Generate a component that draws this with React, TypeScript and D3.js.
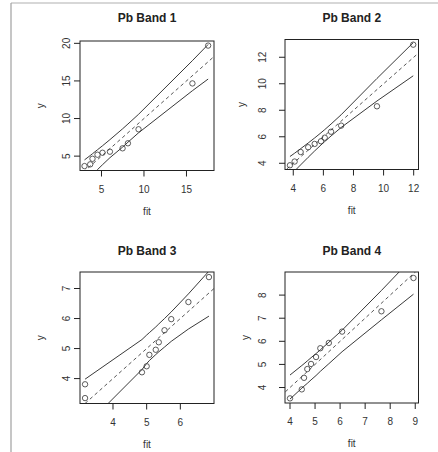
import React from "react";
import * as d3 from "d3";

// ---------- data ----------
const titles = ["Pb Band 1", "Pb Band 2", "Pb Band 3", "Pb Band 4"];

const p1Fit = [3.0, 3.67, 3.94, 4.53, 5.12, 5.99, 7.48, 8.11, 9.36, 15.7, 17.55];
const p1Y = [3.68, 3.91, 4.65, 5.19, 5.45, 5.59, 6.04, 6.71, 8.57, 14.67, 19.7];
const p1Upper = [4.5, 5.08, 5.32, 5.85, 6.38, 7.19, 8.63, 9.27, 10.56, 17.7, 19.85];
const p1Lower = [1.5, 2.26, 2.56, 3.21, 3.86, 4.79, 6.2, 6.85, 8.1, 13.7, 15.25];
const p1XDomain = [2.47, 18.24];
const p1YDomain = [3.09, 20.31];
const p1XTicks = [5, 10, 15];
const p1YTicks = [5, 10, 15, 20];

const p2Fit = [3.78, 4.09, 4.49, 4.99, 5.42, 5.84, 6.09, 6.51, 7.18, 9.56, 11.97];
const p2Y = [3.85, 4.13, 4.85, 5.21, 5.46, 5.66, 5.93, 6.38, 6.84, 8.3, 12.95];
const p2Upper = [4.51, 4.76, 5.1, 5.53, 5.91, 6.3, 6.54, 6.96, 7.66, 10.4, 13.1];
const p2Lower = [3.05, 3.42, 3.88, 4.45, 4.93, 5.38, 5.64, 6.06, 6.7, 8.7, 10.6];
const p2XDomain = [3.45, 12.32];
const p2YDomain = [3.53, 13.34];
const p2XTicks = [4, 6, 8, 10, 12];
const p2YTicks = [4, 6, 8, 10, 12];

const p3Fit = [3.17, 3.17, 4.86, 5.0, 5.08, 5.27, 5.36, 5.53, 5.73, 6.24, 6.85];
const p3Y = [3.81, 3.35, 4.21, 4.41, 4.79, 4.96, 5.21, 5.61, 5.98, 6.55, 7.38];
const p3Upper = [3.98, 3.98, 5.3, 5.45, 5.53, 5.72, 5.82, 6.0, 6.22, 6.82, 7.58];
const p3Lower = [2.4, 2.4, 4.3, 4.5, 4.6, 4.8, 4.89, 5.05, 5.24, 5.65, 6.08];
const p3XDomain = [3.02, 7.0];
const p3YDomain = [3.17, 7.55];
const p3XTicks = [4, 5, 6];
const p3YTicks = [4, 5, 6, 7];

const p4Fit = [4.0, 4.47, 4.56, 4.69, 4.84, 5.04, 5.21, 5.55, 6.08, 7.65, 8.93];
const p4Y = [3.53, 3.92, 4.42, 4.8, 5.02, 5.32, 5.7, 5.93, 6.42, 7.3, 8.74];
const p4Upper = [4.54, 4.95, 5.03, 5.15, 5.29, 5.47, 5.63, 5.96, 6.48, 8.2, 9.65];
const p4Lower = [3.5, 3.97, 4.06, 4.18, 4.33, 4.52, 4.7, 5.03, 5.55, 6.93, 8.04];
const p4XDomain = [3.8, 9.13];
const p4YDomain = [3.33, 9.0];
const p4XTicks = [4, 5, 6, 7, 8, 9];
const p4YTicks = [4, 5, 6, 7, 8];

// reference line y = fit (dashed), as endpoints
const refLine = [0, 25];

const panels = [
  { fit: p1Fit, y: p1Y, up: p1Upper, lo: p1Lower, xd: p1XDomain, yd: p1YDomain, xt: p1XTicks, yt: p1YTicks },
  { fit: p2Fit, y: p2Y, up: p2Upper, lo: p2Lower, xd: p2XDomain, yd: p2YDomain, xt: p2XTicks, yt: p2YTicks },
  { fit: p3Fit, y: p3Y, up: p3Upper, lo: p3Lower, xd: p3XDomain, yd: p3YDomain, xt: p3XTicks, yt: p3YTicks },
  { fit: p4Fit, y: p4Y, up: p4Upper, lo: p4Lower, xd: p4XDomain, yd: p4YDomain, xt: p4XTicks, yt: p4YTicks },
];

// ---------- layout ----------
const boxes = [
  { x0: 80, x1: 214, y0: 41, y1: 170.5, tickLab: 14, yLab: 40, titleY: 21.5 },
  { x0: 285, x1: 418.5, y0: 39.5, y1: 169.5, tickLab: 23, yLab: 44, titleY: 21.5 },
  { x0: 80, x1: 214, y0: 272, y1: 403.5, tickLab: 14, yLab: 40, titleY: 255 },
  { x0: 285, x1: 418.5, y0: 272, y1: 403, tickLab: 23, yLab: 40, titleY: 254.5 },
];

const FONT = "'Liberation Sans', Arial, Helvetica, sans-serif";
const INK = "#222";

function Panel({ idx }: { idx: number }) {
  const p = panels[idx];
  const b = boxes[idx];
  const x = d3.scaleLinear().domain(p.xd).range([b.x0, b.x1]);
  const y = d3.scaleLinear().domain(p.yd).range([b.y1, b.y0]);
  const idxs = d3.range(p.fit.length);
  const line = d3
    .line<number>()
    .x((i) => x(p.fit[i]))
    .y((i) => y(p.up[i]));
  const lineLo = d3
    .line<number>()
    .x((i) => x(p.fit[i]))
    .y((i) => y(p.lo[i]));
  const refPath = d3
    .line<number>()
    .x((v) => x(v))
    .y((v) => y(v))(refLine);
  const cx = (b.x0 + b.x1) / 2;
  const cy = (b.y0 + b.y1) / 2;
  const clipId = `clip${idx}`;
  return (
    <g>
      <defs>
        <clipPath id={clipId}>
          <rect x={b.x0} y={b.y0} width={b.x1 - b.x0} height={b.y1 - b.y0} />
        </clipPath>
      </defs>
      <text x={cx} y={b.titleY} textAnchor="middle" fontFamily={FONT} fontWeight="bold" fontSize={12} fill={INK}>
        {titles[idx]}
      </text>
      <g clipPath={`url(#${clipId})`}>
        <path d={refPath || ""} fill="none" stroke="#444" strokeWidth={0.9} strokeDasharray="3.5,3" />
        <path d={line(idxs) || ""} fill="none" stroke={INK} strokeWidth={0.9} />
        <path d={lineLo(idxs) || ""} fill="none" stroke={INK} strokeWidth={0.9} />
        {idxs.map((i) => (
          <circle key={i} cx={x(p.fit[i])} cy={y(p.y[i])} r={2.7} fill="none" stroke="#333" strokeWidth={0.8} />
        ))}
      </g>
      <rect x={b.x0} y={b.y0} width={b.x1 - b.x0} height={b.y1 - b.y0} fill="none" stroke={INK} strokeWidth={1} />
      {p.xt.map((t) => (
        <g key={"x" + t}>
          <line x1={x(t)} x2={x(t)} y1={b.y1} y2={b.y1 + 6} stroke={INK} strokeWidth={1} />
          <text x={x(t)} y={b.y1 + 22} textAnchor="middle" fontFamily={FONT} fontSize={10} fill="#333">
            {t}
          </text>
        </g>
      ))}
      {p.yt.map((t) => (
        <g key={"y" + t}>
          <line x1={b.x0 - 6} x2={b.x0} y1={y(t)} y2={y(t)} stroke={INK} strokeWidth={1} />
          <text
            transform={`translate(${b.x0 - b.tickLab + 3.5},${y(t)}) rotate(-90)`}
            textAnchor="middle"
            fontFamily={FONT}
            fontSize={10}
            fill="#333"
          >
            {t}
          </text>
        </g>
      ))}
      <text x={cx} y={b.y1 + 44} textAnchor="middle" fontFamily={FONT} fontSize={10} fill="#333">
        fit
      </text>
      <text
        transform={`translate(${b.x0 - b.yLab + 3.5},${cy}) rotate(-90)`}
        textAnchor="middle"
        fontFamily={FONT}
        fontSize={10}
        fill="#333"
      >
        y
      </text>
    </g>
  );
}

export default function App() {
  return (
    <svg
      width={438}
      height={452}
      style={{ position: "absolute", left: 0, top: 0, background: "#fff" }}
    >
      <rect x={0} y={0} width={438} height={452} fill="#fff" />
      <line x1={11} x2={438} y1={3} y2={3} stroke="#b0b0b0" strokeWidth={1.2} />
      <line x1={11} x2={11} y1={3} y2={452} stroke="#a0a0a0" strokeWidth={1.2} />
      {[0, 1, 2, 3].map((i) => (
        <Panel key={i} idx={i} />
      ))}
    </svg>
  );
}
